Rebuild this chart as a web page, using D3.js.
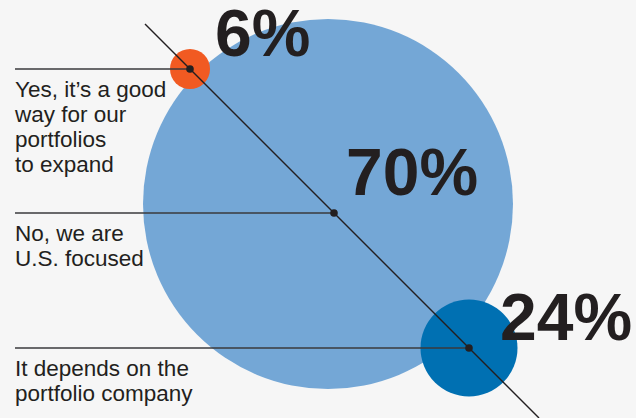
<!DOCTYPE html>
<html>
<head>
<meta charset="utf-8">
<script src="https://cdn.jsdelivr.net/npm/d3@7"></script>
<style>
  html, body { margin: 0; padding: 0; background: #f6f6f6; }
  svg { display: block; }
</style>
</head>
<body>
<svg id="chart" width="636" height="418"></svg>
<script>
// Survey answers and their shares
const answers = ["Yes", "No", "Depends"];
const shares = [6, 70, 24];
const answerLines = [
  ["Yes, it’s a good", "way for our", "portfolios", "to expand"],
  ["No, we are", "U.S. focused"],
  ["It depends on the", "portfolio company"]
];
const colors = ["#f15a22", "#74a7d6", "#0070b2"];

const W = 636, H = 418;
const svg = d3.select("#chart");

// Anchor points sit on a 45° diagonal; y position of each answer
const anchorY = d3.scaleOrdinal().domain(answers).range([69, 213, 348]);
const diag = d3.scaleLinear().domain([24, 417]).range([145, 538]); // y -> x on the diagonal
const radius = d3.scaleLinear().domain([6, 24, 70]).range([20, 48.5, 185]);
// the large bubble sits slightly up-left of its anchor
const bubbleShift = { Yes: [0, 0], No: [-6, -9], Depends: [0, 0] };

const rows = answers.map((a, i) => ({
  key: a, value: shares[i], lines: answerLines[i], color: colors[i],
  x: diag(anchorY(a)), y: anchorY(a)
}));

// bubbles: draw the largest first
const drawOrder = rows.slice().sort((a, b) => b.value - a.value);
svg.selectAll("circle.bubble").data(drawOrder).join("circle")
  .attr("class", "bubble")
  .attr("cx", d => d.x + bubbleShift[d.key][0])
  .attr("cy", d => d.y + bubbleShift[d.key][1])
  .attr("r", d => radius(d.value))
  .attr("fill", d => d.color);

// diagonal guide
svg.append("line")
  .attr("x1", diag(24)).attr("y1", 24)
  .attr("x2", diag(418)).attr("y2", 418)
  .attr("stroke", "#231f20").attr("stroke-width", 1.4);

// leader lines from the labels to the anchors
svg.selectAll("line.leader").data(rows).join("line")
  .attr("class", "leader")
  .attr("x1", 15).attr("x2", d => d.x)
  .attr("y1", d => d.y).attr("y2", d => d.y)
  .attr("stroke", "#3a3a3c").attr("stroke-width", 1.6);

svg.selectAll("circle.dot").data(rows).join("circle")
  .attr("class", "dot")
  .attr("cx", d => d.x).attr("cy", d => d.y).attr("r", 3.8)
  .attr("fill", "#231f20");

// answer text under each leader line
svg.selectAll("text.answer").data(rows).join("text")
  .attr("class", "answer")
  .attr("x", 15)
  .attr("y", d => d.y + 28)
  .attr("font-family", "'Liberation Sans', Arial, sans-serif")
  .attr("font-size", 22.5)
  .attr("fill", "#231f20")
  .selectAll("tspan").data(d => d.lines).join("tspan")
  .attr("x", 15)
  .attr("dy", (l, i) => i === 0 ? 0 : 25)
  .text(l => l);

// percentage callouts
const pctPos = { Yes: [215, 56], No: [346, 195], Depends: [500, 340] };
svg.selectAll("text.pct").data(rows).join("text")
  .attr("class", "pct")
  .attr("x", d => pctPos[d.key][0])
  .attr("y", d => pctPos[d.key][1])
  .attr("font-family", "'Liberation Sans', Arial, sans-serif")
  .attr("font-weight", "bold")
  .attr("font-size", 66)
  .attr("fill", "#231f20")
  .text(d => d.value + "%");
</script>
</body>
</html>
